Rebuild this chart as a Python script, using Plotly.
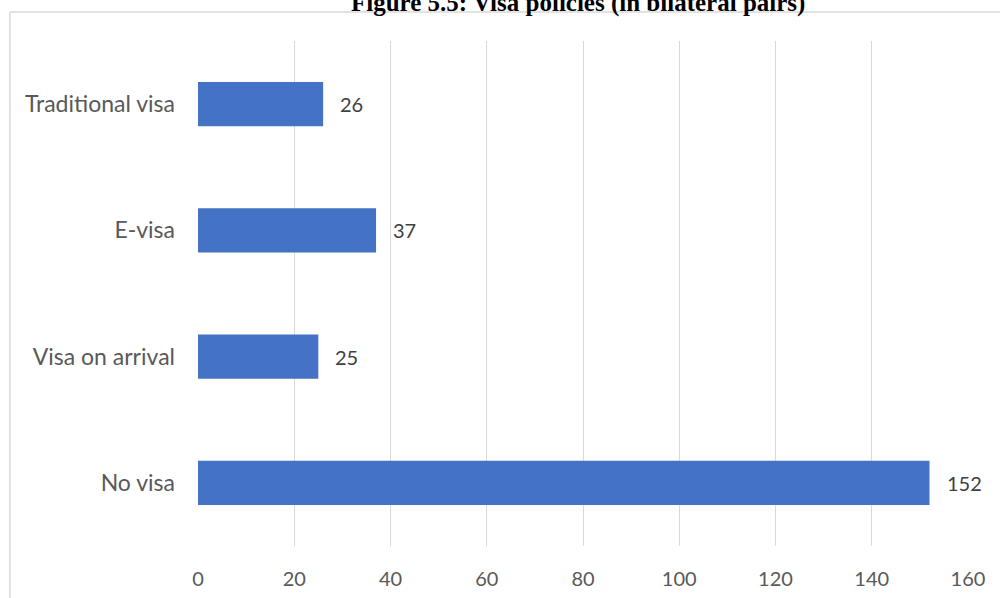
import plotly.graph_objects as go

# Visa policy categories (bottom to top) and number of bilateral pairs
categories = ["No visa", "Visa on arrival", "E-visa", "Traditional visa"]
pairs = [152, 25, 37, 26]
x_ticks = [0, 20, 40, 60, 80, 100, 120, 140, 160]

title_text = "Figure 5.5: Visa policies (in bilateral pairs)"

BAR_COLOR = "#4472C4"
GRID_COLOR = "#D9D9D9"
LABEL_COLOR = "#595959"
FONT = "Lato, 'Open Sans', sans-serif"

fig = go.Figure(
    go.Bar(
        x=pairs,
        y=categories,
        orientation="h",
        marker=dict(color=BAR_COLOR, line=dict(width=0)),
        hoverinfo="x+y",
    )
)

# Value labels just right of each bar
for cat, val in zip(categories, pairs):
    fig.add_annotation(
        x=val, y=cat, xref="x", yref="y",
        text=str(val), showarrow=False,
        xanchor="left", yanchor="middle", xshift=15,
        font=dict(family=FONT, size=20, color="#404040"),
    )

# Chart title at the very top of the page
fig.add_annotation(
    x=0.494, y=1.0,  xref="paper", yref="paper",
    yshift=38,
    text="<b>" + title_text + "</b>", showarrow=False,
    xanchor="center", yanchor="middle",
    font=dict(family="'Liberation Serif', 'Times New Roman', serif", size=25, color="#000000"),
)

# Light frame around the chart area (top and left edges)
fig.add_shape(type="line", xref="paper", yref="paper",
              x0=-0.2442, x1=1.1, y0=1.0574, y1=1.0574,
              line=dict(color=GRID_COLOR, width=1.5))
fig.add_shape(type="line", xref="paper", yref="paper",
              x0=-0.2442, x1=-0.2442, y0=1.0574, y1=-0.2,
              line=dict(color=GRID_COLOR, width=1.5))

fig.update_layout(
    width=1000, height=598,
    margin=dict(l=198, r=32, t=41, b=52),
    paper_bgcolor="white", plot_bgcolor="white",
    bargap=0.65,
    showlegend=False,
    font=dict(family=FONT, size=20, color=LABEL_COLOR),
    xaxis=dict(
        range=[0, 160], tickvals=x_ticks,
        showgrid=True, gridcolor=GRID_COLOR, gridwidth=1.3,
        zeroline=False, showline=False, ticks="",
        ticklabelstandoff=19, automargin=False,
        tickfont=dict(family=FONT, size=20, color=LABEL_COLOR),
        fixedrange=True,
    ),
    yaxis=dict(
        categoryorder="array", categoryarray=categories,
        showgrid=False, zeroline=False, showline=False, ticks="",
        ticklabelstandoff=22, automargin=False,
        tickfont=dict(family=FONT, size=23, color=LABEL_COLOR),
        fixedrange=True,
    ),
)

fig.write_html("out.html")
